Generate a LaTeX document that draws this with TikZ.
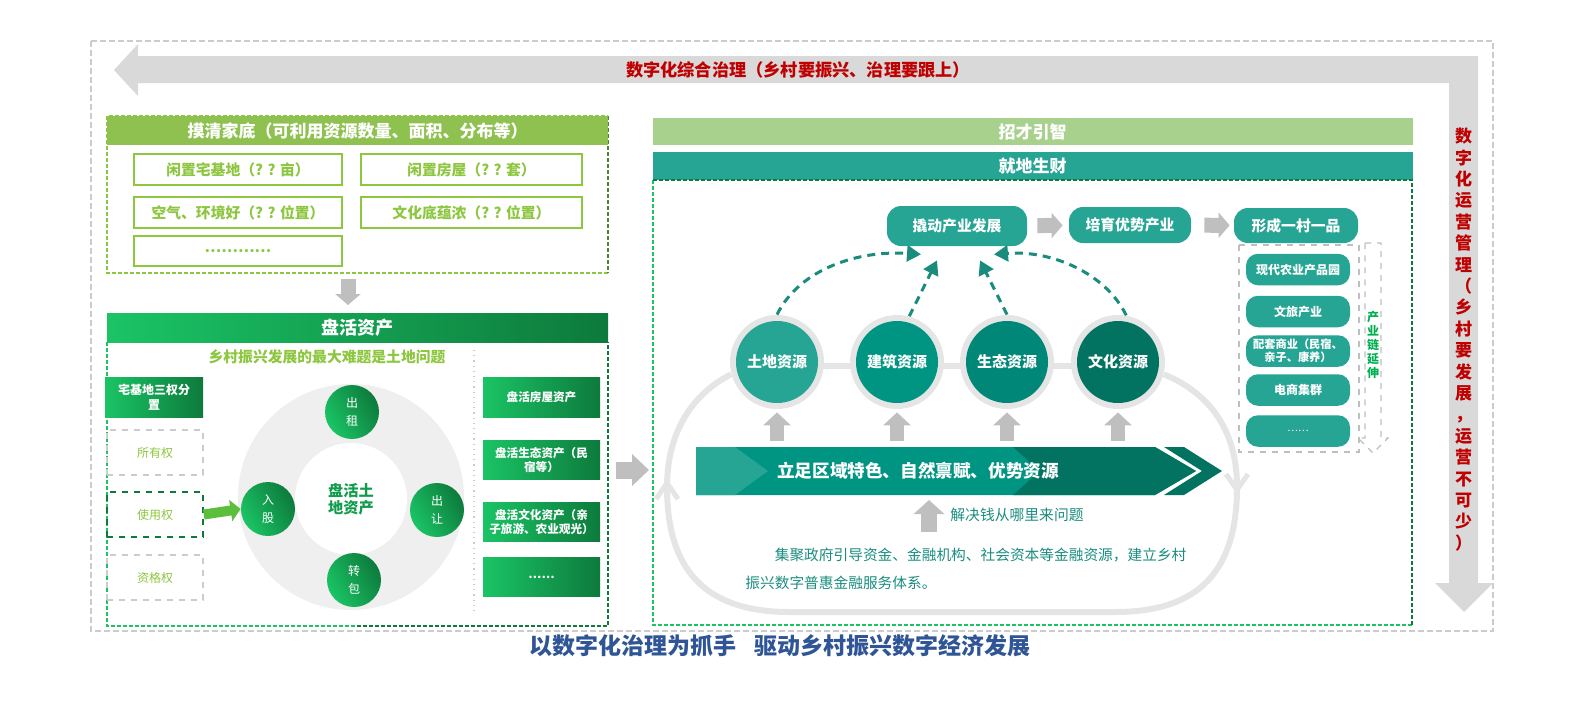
\documentclass[tikz,border=0pt]{standalone}
\usepackage{fontspec}
\setmainfont{Noto Sans CJK SC}
\usepackage{tikz}
\usetikzlibrary{arrows.meta,calc,positioning}
\definecolor{govred}{RGB}{192,0,0}
\definecolor{bandgray}{RGB}{217,217,217}
\definecolor{framegray}{RGB}{204,204,204}
\definecolor{arrowgray}{RGB}{191,191,191}
\definecolor{loopgray}{RGB}{229,229,229}
\definecolor{ringgray}{RGB}{239,239,239}
\definecolor{leafgreen}{RGB}{141,198,63}
\definecolor{leafdark}{RGB}{84,130,53}
\definecolor{leafhead}{RGB}{143,193,80}
\definecolor{mintgreen}{RGB}{169,209,142}
\definecolor{brightgreen}{RGB}{26,196,101}
\definecolor{deepgreen}{RGB}{13,122,60}
\definecolor{coregreen}{RGB}{15,156,75}
\definecolor{arrowgreen}{RGB}{91,191,60}
\definecolor{tealA}{RGB}{38,165,149}
\definecolor{tealB}{RGB}{0,148,131}
\definecolor{tealC}{RGB}{0,135,120}
\definecolor{tealD}{RGB}{3,115,97}
\definecolor{tealtext}{RGB}{26,140,126}
\definecolor{chaingreen}{RGB}{0,176,80}
\definecolor{titleblue}{RGB}{47,85,151}
\newcommand\cnsize[2]{\fontsize{#1}{#2}\selectfont}

\begin{document}
\begin{tikzpicture}[x=0.5pt,y=-0.5pt,
    every node/.style={inner sep=0pt,align=center},
    headbar/.style={minimum width=250.5pt,minimum height=14.5pt,text=white,
                    font=\bfseries\cnsize{8.5pt}{10pt}},
    leafbox/.style={draw=leafgreen,line width=1pt,minimum height=15.5pt,text=leafgreen,
                    font=\bfseries\cnsize{7.4pt}{8pt}},
    rightbox/.style={dashed,line width=0.6pt,minimum width=48pt,minimum height=22.5pt,
                     text=leafgreen,font=\cnsize{6pt}{7pt}},
    assetbox/.style={left color=brightgreen,right color=deepgreen,minimum width=58.5pt,
                     minimum height=19.75pt,text=white,font=\bfseries\cnsize{5.8pt}{7.4pt}},
    wayball/.style={circle,minimum size=27pt,left color=brightgreen,right color=deepgreen,
                    shading angle=120,text=white,font=\cnsize{6pt}{9pt}},
    bar/.style={minimum width=380pt,text=white,font=\bfseries\cnsize{8.5pt}{10pt}},
    tealpill/.style={fill=tealA,rounded corners=7pt,text=white,font=\bfseries\cnsize{7.4pt}{9pt}},
    listpill/.style={fill=tealA,rounded corners=6pt,minimum width=52pt,minimum height=15.75pt,
                     text=white,font=\bfseries\cnsize{6pt}{6.6pt}},
    resring/.style={circle,fill=loopgray,minimum size=47pt},
    resball/.style={circle,minimum size=41pt,text=white,font=\bfseries\cnsize{7.5pt}{9pt}},
    blockarrow/.style={draw=arrowgray,line width=7.5pt,-{Triangle[length=5.5pt,width=12.5pt]}},
    uparrow/.style={draw=arrowgray,line width=7pt,-{Triangle[length=6.5pt,width=13.5pt]}},
    dashlink/.style={draw=tealtext,line width=1.5pt,dash pattern=on 4pt off 3pt,
                     -{Triangle[length=7pt,width=8pt]}},
    panelline/.style={line width=0.7pt,dash pattern=on 2pt off 1pt}]

  \useasboundingbox (0,0) rectangle (1584,708);

  % --- frame and the two management bands ---------------------------------
  \draw[framegray,line width=0.6pt,dash pattern=on 3pt off 1.5pt] (91,41) rectangle (1493,631);
  \fill[bandgray] (114,70) -- (138,44) -- (138,56) -- (1478,56) -- (1478,583) -- (1493,583)
      -- (1464,612) -- (1435,583) -- (1449,583) -- (1449,83) -- (138,83) -- (138,96) -- cycle;
  \node[text=govred,font=\bfseries\cnsize{8.6pt}{10pt}] (govern) at (798,70)
      {数字化综合治理（乡村要振兴、治理要跟上）};
  \node[text=govred,font=\bfseries\cnsize{8.5pt}{10.7pt}] (operate) at (1463.5,339.5)
      {数\\字\\化\\运\\营\\管\\理\\（\\乡\\村\\要\\发\\展\\，\\运\\营\\不\\可\\少\\）};

  % --- survey panel -----------------------------------------------------
  \draw[leafgreen,panelline] (608,273) -- (107,273) -- (107,116) -- (608,116);
  \draw[leafdark,panelline] (608,116) -- (608,273);
  \node[headbar,fill=leafhead] (survey) at (357.5,130.5) {摸清家底（可利用资源数量、面积、分布等）};
  \node[leafbox,minimum width=104pt] (idle1) at (238,169.5) {闲置宅基地（? ? 亩）};
  \node[leafbox,minimum width=110.5pt] (idle2) at (471.5,169.5) {闲置房屋（? ? 套）};
  \node[leafbox,minimum width=104pt] (air) at (238,212.5) {空气、环境好（? ? 位置）};
  \node[leafbox,minimum width=110.5pt] (culture) at (471.5,212.5) {文化底蕴浓（? ? 位置）};
  \node[leafbox,minimum width=104pt,minimum height=15pt] (more) at (238,251) {…………};

  \coordinate (surveyS) at (348,273);
  \coordinate (assetN) at (348,313);
  \draw[blockarrow,shorten <=3pt,shorten >=4pt] (surveyS) -- (assetN);

  % --- asset panel ------------------------------------------------------
  \draw[brightgreen,panelline] (107,342) -- (107,626) -- (357,626);
  \draw[deepgreen,panelline] (357,626) -- (608,626) -- (608,342);
  \node[headbar,left color=brightgreen,right color=deepgreen,font=\bfseries\cnsize{9pt}{10pt}]
      (asset) at (357.5,327.5) {盘活资产};
  \node[text=leafgreen,font=\bfseries\cnsize{7.4pt}{9pt}] (problem) at (327,357)
      {乡村振兴发展的最大难题是土地问题};
  \draw[framegray,dotted,line width=0.6pt] (474,350) -- (474,612);

  \node[assetbox,minimum width=49pt,minimum height=20pt,font=\bfseries\cnsize{6pt}{7.4pt}]
      (split) at (154,397) {宅基地三权分\\置};
  \node[rightbox,draw=framegray] (own) at (155,452.5) {所有权};
  \node[rightbox,draw=deepgreen,line width=0.8pt] (use) at (155,514.5) {使用权};
  \node[rightbox,draw=framegray] (qual) at (155,577.5) {资格权};

  \node[circle,fill=ringgray,minimum size=113pt] (ring) at (351,497) {};
  \node[circle,fill=white,minimum size=56pt,text=coregreen,font=\bfseries\cnsize{7.6pt}{8.6pt}]
      (core) at (351,499) {盘活土\\地资产};
  \node[wayball] (rent) at (352,412) {出\\租};
  \node[wayball] (share) at (268,509) {入\\股};
  \node[wayball] (sell) at (437,510) {出\\让};
  \node[wayball] (sublet) at (354,580) {转\\包};
  \draw[arrowgreen,line width=5pt,-{Triangle[length=5pt,width=10.5pt]}] (use.east) -- (share.west);

  \node[assetbox] (house) at (541.5,397.5) {盘活房屋资产};
  \node[assetbox] (ecoasset) at (541.5,460) {盘活生态资产（民\\宿等）};
  \node[assetbox] (cultasset) at (541.5,522) {盘活文化资产（亲\\子旅游、农业观光）};
  \node[assetbox] (etcasset) at (541.5,577) {……};

  \coordinate (assetE) at (608,470);
  \coordinate (localW) at (653,470);
  \draw[blockarrow,line width=8.5pt,-{Triangle[length=8.5pt,width=15.5pt]},
        shorten <=4pt,shorten >=2pt] (assetE) -- (localW);

  % --- local wealth panel -------------------------------------------------
  \node[bar,fill=mintgreen,minimum height=13.5pt] (talent) at (1032.5,131.5) {招才引智};
  \node[bar,fill=tealA,minimum height=14pt] (local) at (1032.5,166) {就地生财};
  \draw[brightgreen,panelline] (653,180) -- (653,625) -- (1412,625);
  \draw[deepgreen,panelline] (653,180) -- (1412,180) -- (1412,625);

  \node[tealpill,minimum width=70pt,minimum height=20pt] (lever) at (957,226) {撬动产业发展};
  \node[tealpill,minimum width=61pt,minimum height=18pt] (grow) at (1130,225) {培育优势产业};
  \node[tealpill,minimum width=62pt,minimum height=17.5pt] (brand) at (1296,225.5) {形成一村一品};
  \draw[blockarrow,shorten <=5pt,shorten >=3pt] (lever) -- (grow);
  \draw[blockarrow,shorten <=6.5pt,shorten >=2pt] (grow) -- (brand);

  \draw[arrowgray,line width=0.6pt,dashed] (1239,245) rectangle (1359,452);
  \node[listpill] (park) at (1298,269.5) {现代农业产品园};
  \node[listpill] (tour) at (1298,311.5) {文旅产业};
  \node[listpill,font=\bfseries\cnsize{5.6pt}{6.6pt}] (retail) at (1298,351) {配套商业（民宿、\\亲子、康养）};
  \node[listpill] (ecom) at (1298,390) {电商集群};
  \node[listpill,font=\cnsize{5pt}{6pt}] (etc) at (1298,431) {……};
  \draw[arrowgray,line width=0.6pt,dashed] (1365,243) -- (1381,243) -- (1381,438) -- (1388,438)
      -- (1373,453) -- (1358,438) -- (1365,438) -- cycle;
  \node[text=chaingreen,font=\bfseries\cnsize{6pt}{7pt}] (chain) at (1373,345) {产\\业\\链\\延\\伸};

  % resource loop
  \draw[loopgray,line width=3pt] (777,366) -- (1118,366);
  \node[resring] (landR) at (777,362) {};
  \node[resring] (buildR) at (897,362) {};
  \node[resring] (ecoR) at (1007,362) {};
  \node[resring] (cultR) at (1118,362) {};
  \draw[loopgray,line width=3pt] (landR.195) .. controls (690,395) and (667,435) .. (667,487)
      .. controls (667,570) and (705,612) .. (790,612) -- (1115,612)
      .. controls (1200,612) and (1237,570) .. (1237,487)
      .. controls (1237,435) and (1214,395) .. (cultR.-15);
  \draw[loopgray,line width=2.5pt] (656,499) -- (667,483) -- (678,499);
  \draw[loopgray,line width=2.5pt] (1226,474) -- (1237,490) -- (1248,474);
  \node[resball,fill=tealA] (land) at (landR) {土地资源};
  \node[resball,fill=tealB] (build) at (buildR) {建筑资源};
  \node[resball,fill=tealC] (eco) at (ecoR) {生态资源};
  \node[resball,fill=tealD] (cult) at (cultR) {文化资源};

  \draw[dashlink] (landR.north) .. controls (800,268) and (860,250) .. ($(lever.south)+(-36,8)$);
  \draw[dashlink] (buildR.75) -- ($(lever.south)+(-20,14)$);
  \draw[dashlink] (ecoR.north) -- ($(lever.south)+(23,14)$);
  \draw[dashlink] (cultR.80) .. controls (1105,272) and (1050,250) .. ($(lever.south)+(37,8)$);

  % base banner
  \coordinate (banN) at (0,447);
  \coordinate (banS) at (929,495);
  \fill[tealB] (696,447) -- (1155,447) -- (1196,471) -- (1155,495) -- (696,495) -- cycle;
  \fill[tealA] (696,447) -- (735,447) -- (768,471) -- (735,495) -- (696,495) -- cycle;
  \fill[tealD] (1013,447) -- (1155,447) -- (1196,471) -- (1155,495) -- (1013,495) -- (1040,471) -- cycle;
  \fill[tealD] (1164,447) -- (1184,447) -- (1222,471) -- (1184,495) -- (1164,495) -- (1202,471) -- cycle;
  \node[text=white,font=\bfseries\cnsize{8.8pt}{10pt}] (base) at (918,471)
      {立足区域特色、自然禀赋、优势资源};
  \foreach \r in {landR,buildR,ecoR,cultR}
    \draw[uparrow,shorten <=3pt,shorten >=1.5pt] (\r.south |- banN) -- (\r.south);

  \draw[uparrow,line width=8pt,-{Triangle[length=7pt,width=15pt]},shorten >=2.5pt]
      ($(banS)+(0,37)$) -- (banS);
  \node[text=tealtext,font=\cnsize{7.4pt}{9pt}] (money) at (1017,515) {解决钱从哪里来问题};
  \node[anchor=west,align=left,text=tealtext,font=\cnsize{7.35pt}{14pt}] (fund) at (745,569)
      {\hspace*{2em}集聚政府引导资金、金融机构、社会资本等金融资源，建立乡村\\振兴数字普惠金融服务体系。};

  % --- title ----------------------------------------------------------------
  \node[text=titleblue,font=\bfseries\cnsize{11.5pt}{12pt}] (title) at (780,646)
      {以数字化治理为抓手\hspace{0.8em}驱动乡村振兴数字经济发展};
\end{tikzpicture}
\end{document}
